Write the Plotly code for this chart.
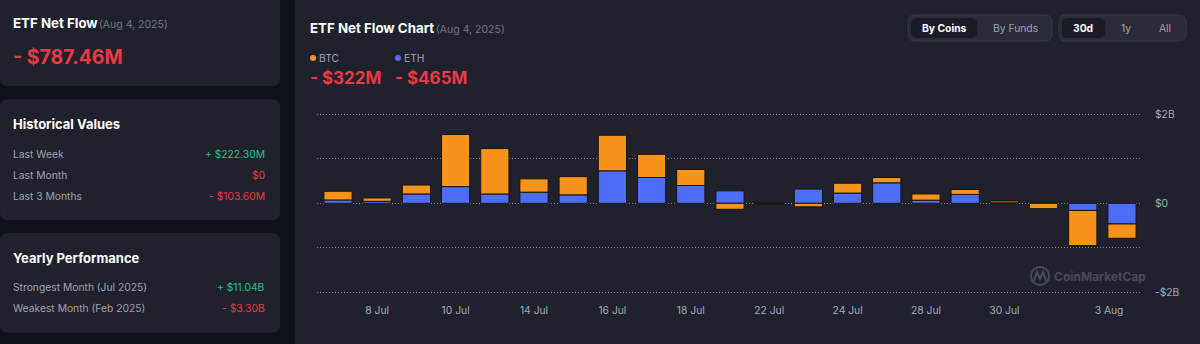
import plotly.graph_objects as go

# ---- data -------------------------------------------------------------
dates = ["7 Jul", "8 Jul", "9 Jul", "10 Jul", "11 Jul", "14 Jul", "15 Jul",
         "16 Jul", "17 Jul", "18 Jul", "21 Jul", "22 Jul", "23 Jul", "24 Jul",
         "25 Jul", "28 Jul", "29 Jul", "30 Jul", "31 Jul", "1 Aug", "4 Aug"]
# daily net flow in $B
eth_flow = [0.075, 0.045, 0.21, 0.375, 0.21, 0.25, 0.19, 0.73, 0.58, 0.40,
            0.28, 0.0, 0.32, 0.23, 0.46, 0.07, 0.20, 0.01, 0.0, -0.16, -0.465]
btc_flow = [0.195, 0.075, 0.20, 1.17, 1.02, 0.30, 0.41, 0.80, 0.52, 0.36,
            -0.135, -0.012, -0.08, 0.22, 0.12, 0.14, 0.11, 0.04, -0.12, -0.79, -0.322]

tick_labels = ["8 Jul", "10 Jul", "14 Jul", "16 Jul", "18 Jul", "22 Jul",
               "24 Jul", "28 Jul", "30 Jul", "3 Aug"]
tick_index = [1, 3, 5, 7, 9, 11, 13, 15, 17, 19.67]

y_tick_vals = [-2, -1, 0, 1, 2]
y_tick_text = ["-$2B", "", "$0", "", "$2B"]

history_rows = [("Last Week", "+ $222.30M", "#16c784"),
                ("Last Month", "$0", "#ea3943"),
                ("Last 3 Months", "- $103.60M", "#ea3943")]
yearly_rows = [("Strongest Month (Jul 2025)", "+ $11.04B", "#16c784"),
               ("Weakest Month (Feb 2025)", "- $3.30B", "#ea3943")]

# ---- styling ----------------------------------------------------------
W, H = 1200, 344
FONT = "Inter, 'Noto Sans', sans-serif"
PAGE_BG = "#0d1119"
CARD_BG = "#1f222d"
ORANGE = "#f7931a"
BLUE = "#4c6ef5"
RED = "#ea3943"
GREY = "#9ea3b0"
DIM = "#6f7482"


def X(px):
    return px / W


def Y(py):
    return 1 - py / H


def rounded_rect(x0, y0, x1, y1, r):
    pts = [
        f"M {X(x0 + r)},{Y(y0)}",
        f"L {X(x1 - r)},{Y(y0)}",
        f"Q {X(x1)},{Y(y0)} {X(x1)},{Y(y0 + r)}",
        f"L {X(x1)},{Y(y1 - r)}",
        f"Q {X(x1)},{Y(y1)} {X(x1 - r)},{Y(y1)}",
        f"L {X(x0 + r)},{Y(y1)}",
        f"Q {X(x0)},{Y(y1)} {X(x0)},{Y(y1 - r)}",
        f"L {X(x0)},{Y(y0 + r)}",
        f"Q {X(x0)},{Y(y0)} {X(x0 + r)},{Y(y0)}",
        "Z",
    ]
    return " ".join(pts)


shapes = []
annotations = []


def card(x0, y0, x1, y1, fill=CARD_BG, r=8, line=None):
    shapes.append(dict(type="path", path=rounded_rect(x0, y0, x1, y1, r),
                       xref="paper", yref="paper", fillcolor=fill,
                       line=dict(width=1 if line else 0, color=line or fill),
                       layer="below"))


def text(px, py, s, size=11, color="#ffffff", anchor="left", bold=False):
    if bold:
        s = f"<b>{s}</b>"
    # annotations carry a small inner pad; shift to keep the glyph edge on px
    shift = {"left": -2, "right": 2, "center": 0}[anchor]
    annotations.append(dict(x=X(px + shift), y=Y(py), xref="paper", yref="paper",
                            text=s, showarrow=False, xanchor=anchor,
                            yanchor="middle", borderpad=0,
                            font=dict(family=FONT, size=size, color=color)))


# ---- side cards -------------------------------------------------------
card(0, -10, 280, 86)
text(14, 23, "ETF Net Flow", 13.3, "#ffffff", bold=True)
text(100, 24, "(Aug 4, 2025)", 10.5, DIM)
text(14, 57, "- $787.46M", 19.5, RED, bold=True)

card(0, 99, 280, 220)
text(14, 124, "Historical Values", 13, "#ffffff", bold=True)
for i, (label, value, col) in enumerate(history_rows):
    yy = 154 + i * 21
    text(14, yy, label, 10.3, GREY)
    text(264, yy, value, 10.3, col, anchor="right")

card(0, 233, 280, 333)
text(14, 258, "Yearly Performance", 13, "#ffffff", bold=True)
for i, (label, value, col) in enumerate(yearly_rows):
    yy = 287 + i * 21
    text(14, yy, label, 10.3, GREY)
    text(264, yy, value, 10.3, col, anchor="right")

# ---- main chart card --------------------------------------------------
card(295, -10, 1210, 354)
text(311, 28, "ETF Net Flow Chart", 13.3, "#ffffff", bold=True)
text(437, 29, "(Aug 4, 2025)", 10.5, DIM)

# legend dots and totals
for x0, name, col, total in [(313, "BTC", ORANGE, "- $322M"),
                             (398, "ETH", BLUE, "- $465M")]:
    shapes.append(dict(type="circle", xref="paper", yref="paper",
                       x0=X(x0 - 3), x1=X(x0 + 3), y0=Y(58 + 3), y1=Y(58 - 3),
                       fillcolor=col, line=dict(width=0), layer="below"))
    text(x0 + 7, 58, name, 10.3, GREY)
    text(x0 - 2, 78, total, 17, RED, bold=True)

# toggle button groups
card(908, 15, 1052, 41, fill="#2a2d38", r=7, line="#33374a")
card(911, 18, 977, 38, fill="#181b24", r=6)
text(944, 28, "By Coins", 10.3, "#ffffff", anchor="center", bold=True)
text(1015, 28, "By Funds", 10.3, GREY, anchor="center")

card(1059, 15, 1186, 41, fill="#2a2d38", r=7, line="#33374a")
card(1062, 18, 1105, 38, fill="#181b24", r=6)
text(1083, 28, "30d", 10.3, "#ffffff", anchor="center", bold=True)
text(1126, 28, "1y", 10.3, GREY, anchor="center")
text(1165, 28, "All", 10.3, GREY, anchor="center")

# watermark
WM = "#464a57"
shapes.append(dict(type="circle", xref="paper", yref="paper",
                   x0=X(1031), x1=X(1049), y0=Y(285), y1=Y(267),
                   line=dict(color=WM, width=2), layer="below"))
shapes.append(dict(type="path", xref="paper", yref="paper", layer="below",
                   path=(f"M {X(1034)},{Y(281)} L {X(1037)},{Y(272)} "
                         f"L {X(1040)},{Y(279)} L {X(1043)},{Y(272)} "
                         f"L {X(1046)},{Y(281)}"),
                   line=dict(color=WM, width=2)))
text(1055, 276, "CoinMarketCap", 12, WM, bold=True)

# ---- bars -------------------------------------------------------------
idx = list(range(len(dates)))
fig = go.Figure()
fig.add_trace(go.Bar(x=idx, y=eth_flow, name="ETH", marker_color=BLUE,
                     marker_line=dict(color="#17130d", width=1), width=0.72,
                     customdata=dates, hovertemplate="%{customdata}: %{y}B"))
fig.add_trace(go.Bar(x=idx, y=btc_flow, name="BTC", marker_color=ORANGE,
                     marker_line=dict(color="#17130d", width=1), width=0.72,
                     customdata=dates, hovertemplate="%{customdata}: %{y}B"))

# plot area in pixels: x 317..1140, $2B at y=114.3, -$2B at y=292.3
Y_PAD = 0.07
PX_PER_B = 44.5
plot_top = 114.3 - Y_PAD * PX_PER_B
plot_bot = 292.3 + Y_PAD * PX_PER_B
fig.update_layout(
    width=W, height=H,
    margin=dict(l=0, r=0, t=0, b=0, pad=0),
    paper_bgcolor=PAGE_BG,
    plot_bgcolor="rgba(0,0,0,0)",
    barmode="relative",
    showlegend=False,
    font=dict(family=FONT, color=GREY),
    shapes=shapes,
    annotations=annotations,
    xaxis=dict(domain=[X(317), X(1140)], range=[-0.536, 20.46],
               tickvals=tick_index, ticktext=tick_labels, automargin=False,
               showgrid=False, zeroline=False, showline=False,
               ticks="", ticklabelstandoff=7,
               tickfont=dict(family=FONT, size=10.3, color="#a4a9b6"),
               fixedrange=True),
    yaxis=dict(domain=[Y(plot_bot), Y(plot_top)],
               range=[-2 - Y_PAD, 2 + Y_PAD],
               side="right", tickvals=y_tick_vals, ticktext=y_tick_text,
               automargin=False,
               showgrid=True, gridcolor="#80848f", griddash="1px,2px",
               gridwidth=1, zeroline=False, showline=False,
               ticks="", ticklabelstandoff=14,
               tickfont=dict(family=FONT, size=10.3, color="#a4a9b6"),
               fixedrange=True),
)

fig.write_html("out.html", config={"displayModeBar": False})
